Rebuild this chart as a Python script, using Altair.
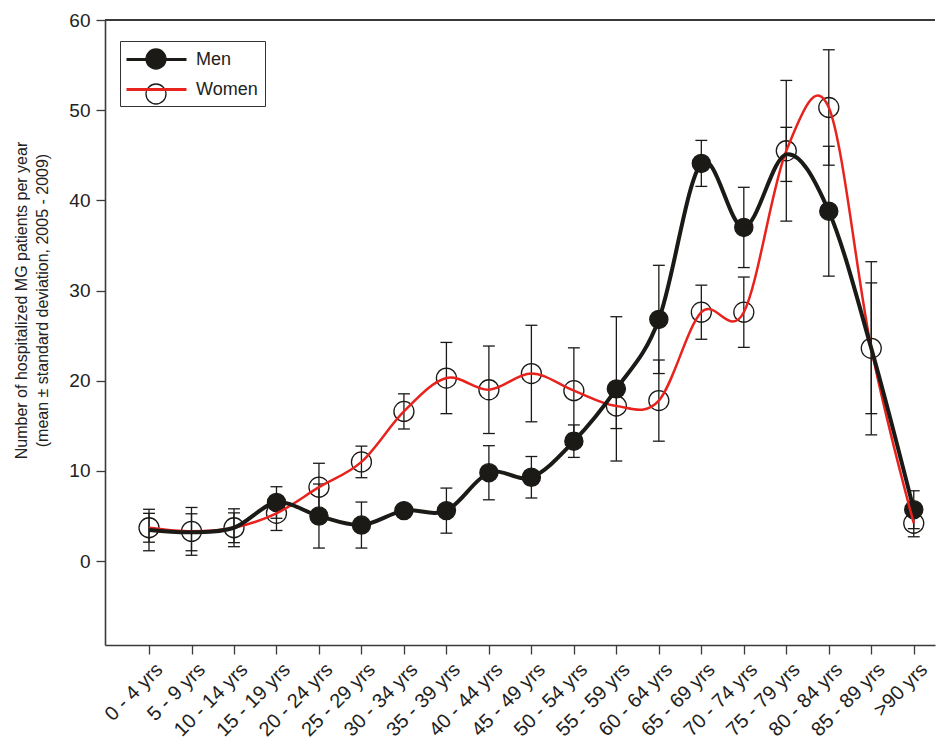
import json
import altair as alt
import pandas as pd

ages = ["0 - 4 yrs", "5 - 9 yrs", "10 - 14 yrs", "15 - 19 yrs", "20 - 24 yrs",
        "25 - 29 yrs", "30 - 34 yrs", "35 - 39 yrs", "40 - 44 yrs", "45 - 49 yrs",
        "50 - 54 yrs", "55 - 59 yrs", "60 - 64 yrs", "65 - 69 yrs", "70 - 74 yrs",
        "75 - 79 yrs", "80 - 84 yrs", "85 - 89 yrs", ">90 yrs"]

men_mean = [3.45, 3.2, 3.7, 6.5, 5.0, 4.0, 5.6, 5.6, 9.8, 9.3, 13.3, 19.1, 26.8,
            44.1, 37.0, 45.1, 38.8, 23.6, 5.7]
men_sd = [2.3, 2.05, 1.65, 1.75, 3.55, 2.55, 0.6, 2.5, 3.0, 2.3, 1.8, 8.0, 6.0,
          2.55, 4.45, 3.0, 7.2, 7.25, 2.1]
men_marker = [0, 0, 0, 1, 1, 1, 1, 1, 1, 1, 1, 1, 1, 1, 1, 0, 1, 0, 1]

women_mean = [3.7, 3.3, 3.7, 5.3, 8.2, 11.0, 16.6, 20.3, 19.0, 20.8, 18.9, 17.2,
              17.8, 27.6, 27.6, 45.5, 50.3, 23.6, 4.2]
women_sd = [1.6, 2.65, 2.1, 1.9, 2.65, 1.75, 1.95, 3.95, 4.85, 5.35, 4.75, 2.5,
            4.5, 3.0, 3.9, 7.8, 6.4, 9.6, 1.5]

sexes = ["Men", "Women"]
BLACK = "#1b1a17"
RED = "#e8221d"
AXIS = "#3a3a3a"

rows = []
for i, a in enumerate(ages):
    rows.append(dict(idx=i, age=a, sex="Women", mean=women_mean[i], sd=women_sd[i], marker=1))
for i, a in enumerate(ages):
    rows.append(dict(idx=i, age=a, sex="Men", mean=men_mean[i], sd=men_sd[i], marker=men_marker[i]))
df = pd.DataFrame(rows)

W, H = 830, 625
xscale = alt.Scale(domain=[-1.036, 18.5], nice=False, zero=False)
yscale = alt.Scale(domain=[-9.3, 60], nice=False, zero=False)

x_axis = alt.Axis(values=list(range(len(ages))), labelExpr=json.dumps(ages) + "[datum.value]",
                  labelAngle=315, labelAlign="right", labelBaseline="top",
                  labelFontSize=20, labelColor="#222", labelPadding=5, labelOffset=3,
                  labelOverlap=False, labelBound=False,
                  tickSize=9, tickColor=AXIS, tickWidth=1.3,
                  domainColor=AXIS, domainWidth=1.6, grid=False, title=None)
y_axis = alt.Axis(values=[0, 10, 20, 30, 40, 50, 60], labelFontSize=19, labelColor="#222",
                  labelPadding=6, tickSize=9, tickColor=AXIS, tickWidth=1.3,
                  domainColor=AXIS, domainWidth=1.6, grid=False,
                  title=["Number of hospitalized MG patients per year",
                         "(mean \u00b1 standard deviation, 2005 - 2009)"],
                  titleFontSize=16, titleFontWeight="normal", titleColor="#222",
                  titleLineHeight=21, titleAngle=270, titleBaseline="top",
                  titleAlign="center", titleX=-92, titleY=280)

X = alt.X("idx:Q", scale=xscale, axis=x_axis)

base = alt.Chart(df)

err = base.transform_calculate(
    lo="datum.mean - datum.sd", hi="datum.mean + datum.sd"
).mark_rule(color=BLACK, strokeWidth=1.3).encode(
    x=X, y=alt.Y("lo:Q", scale=yscale, axis=y_axis), y2="hi:Q")

caps = base.transform_calculate(
    lo="datum.mean - datum.sd", hi="datum.mean + datum.sd",
    xl="datum.idx - 0.14", xr="datum.idx + 0.14"
).transform_fold(["lo", "hi"], as_=["end", "yv"]).mark_rule(
    color=BLACK, strokeWidth=1.3).encode(
    x=alt.X("xl:Q", scale=xscale, axis=x_axis), x2="xr:Q",
    y=alt.Y("yv:Q", scale=yscale, axis=y_axis))

legend_common = dict(orient="none", legendX=15, legendY=21, title=None, padding=7,
                     rowPadding=9, symbolOffset=18, labelOffset=28,
                     labelFontSize=18, symbolSize=400)

points = base.transform_filter("datum.marker == 1").transform_calculate(
    sort_key="datum.sex == 'Women' ? 0 : 1"
).mark_point(
    filled=True, shape="circle", stroke=BLACK, strokeWidth=1.3, opacity=1
).encode(
    x=X, y=alt.Y("mean:Q", scale=yscale, axis=y_axis),
    fill=alt.Fill("sex:N", scale=alt.Scale(domain=sexes, range=[BLACK, "transparent"]),
                  legend=alt.Legend(symbolType="circle", labelOpacity=0, labelExpr="''",
                                    symbolStrokeColor=BLACK, symbolStrokeWidth=1.3,
                                    **legend_common)),
    size=alt.Size("sex:N", scale=alt.Scale(domain=sexes, range=[330, 400]), legend=None),
    order=alt.Order("sort_key:Q"),
)

lines = base.mark_line(interpolate="cardinal").encode(
    x=X, y=alt.Y("mean:Q", scale=yscale, axis=y_axis),
    color=alt.Color("sex:N", scale=alt.Scale(domain=sexes, range=[BLACK, RED]),
                    legend=alt.Legend(symbolType="M-3,0H3", strokeColor="#333",
                                      labelColor="#222", symbolStrokeWidth=3,
                                      **legend_common)),
    strokeWidth=alt.StrokeWidth("sex:N", scale=alt.Scale(domain=sexes, range=[4, 2.5]),
                                legend=None),
)

frame = alt.Chart(df).mark_rule(color=AXIS, strokeWidth=1.6).encode(
    y=alt.datum(60), x=alt.value(0), x2=alt.value(W))

chart = alt.layer(err, caps, points, lines, frame).resolve_legend(
    color="independent", fill="independent"
).properties(
    width=W, height=H, padding={"left": 5, "top": 3, "right": 5, "bottom": 5}
).configure(font="Liberation Sans").configure_view(stroke=None)

chart.save("out.html", embed_options={"renderer": "svg", "actions": False})
